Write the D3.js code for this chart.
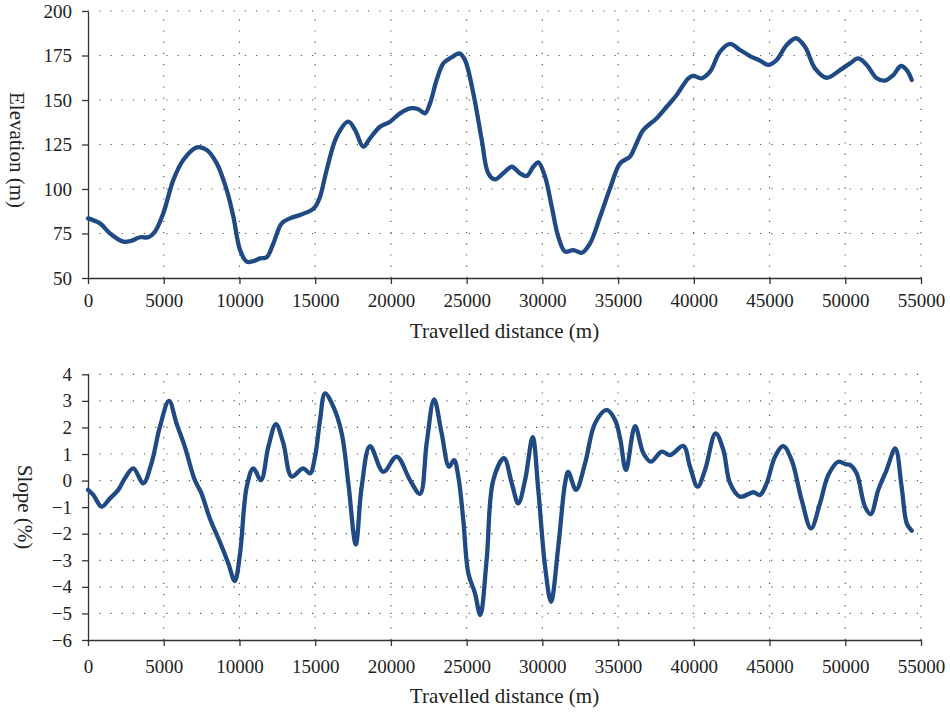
<!DOCTYPE html>
<html>
<head>
<meta charset="utf-8">
<script src="https://cdn.jsdelivr.net/npm/d3@7"></script>
<style>
  body { margin: 0; background: #fff; }
  svg { display: block; }
  .tick text { font-family: "Liberation Serif", "DejaVu Serif", serif; font-size: 19px; fill: #222; }
  .axis path, .axis line { stroke: #333; stroke-width: 1.3px; }
  .grid line { stroke: #555; stroke-width: 1.2px; stroke-dasharray: 1.2 10; }
  .label { font-family: "Liberation Serif", "DejaVu Serif", serif; font-size: 21px; fill: #222; }
</style>
</head>
<body>
<div id="chart"></div>
<script>
// distance (m) and elevation (m)
const elevDistance = [0, 790, 1450, 2330, 2880, 3430, 3980, 4420, 4970, 5630, 6290, 7180, 7840, 8500, 9160, 9600,
  10040, 10480, 10920, 11360, 11800, 12240, 12790, 13340, 14000, 14770, 15000, 15320, 15760, 16420, 17190, 17630,
  18180, 18620, 19280, 19940, 20600, 21260, 21810, 22250, 22580, 23020, 23460, 24010, 24520, 24890, 25440, 26000,
  26430, 26870, 27420, 27980, 28520, 28970, 29400, 29730, 30180, 30620, 31050, 31500, 32040, 32600, 33150, 33810,
  34470, 35130, 35790, 36120, 36670, 37550, 38210, 38870, 39640, 39970, 40520, 41070, 41730, 42390, 43050, 43710,
  44370, 44920, 45470, 46130, 46750, 47340, 48000, 48770, 49650, 50310, 50860, 51420, 52080, 52620, 53170, 53680,
  54060, 54390];
const elevation = [83.5, 80.7, 75.1, 70.4, 71, 72.9, 72.9, 76, 86.3, 105, 116.3, 123.4, 121.9, 114.4, 99.4, 84.4,
  65.7, 59.2, 59.5, 61, 61.7, 69.5, 80.7, 83.5, 85.4, 88.2, 90, 95.7, 110.7, 129.4, 137.8, 133.2,
  123.8, 128.5, 135, 137.8, 142.5, 145.3, 144.8, 142.5, 148.1, 161.2, 170.6, 174, 176.2, 172.5, 153.8, 127.5,
  108.8, 105.4, 108.8, 112.5, 108.8, 107.3, 112.5, 115, 106.9, 90, 73.2, 64.8, 65.7, 64.2, 69.5, 84.4,
  100.4, 114.4, 118.2, 123.8, 133.2, 139.7, 146.2, 152.8, 162.2, 163.5, 162.2, 165.9, 177.1, 181.5, 178.1, 174.7,
  172.1, 169.7, 172.5, 180.9, 184.7, 179.9, 167.8, 162.5, 166.8, 170.6, 173.4, 169.7, 162.2, 160.9, 164, 169.1,
  166.8, 161.2];

// distance (m) and slope (%)
const slopeDistance = [0, 350, 900, 1450, 2000, 2440, 2990, 3650, 4190, 4750, 5350, 5840, 6390, 7050, 7490, 8040,
  8700, 9260, 9690, 10040, 10480, 10920, 11420, 11910, 12410, 12900, 13450, 14200, 14660, 14990, 15320, 15650,
  16200, 16750, 17190, 17680, 18070, 18620, 19500, 20380, 21260, 21920, 22360, 22850, 23350, 23840, 24170, 24450,
  24780, 25110, 25550, 25900, 26320, 26760, 27470, 27980, 28410, 28860, 29360, 29730, 30180, 30570, 31050, 31500,
  31710, 32220, 32820, 33480, 34250, 34800, 35130, 35520, 36120, 36670, 37170, 37880, 38430, 39310, 39750, 40250,
  40740, 41440, 41950, 42390, 43050, 43930, 44370, 44810, 45360, 45910, 46460, 47120, 47740, 48330, 48880, 49540,
  50000, 50310, 50750, 51300, 51680, 52180, 52730, 53300, 53720, 54060, 54390];
const slope = [-0.35, -0.54, -0.98, -0.67, -0.35, 0.09, 0.46, -0.10, 0.65, 2.03, 3.0, 2.16, 1.28, 0.02, -0.48, -1.42,
  -2.30, -3.11, -3.78, -2.74, -0.23, 0.46, 0.02, 1.28, 2.12, 1.40, 0.15, 0.46, 0.27, 0.90, 2.28, 3.28,
  2.78, 1.78, -0.10, -2.40, -0.23, 1.30, 0.33, 0.90, 0.02, -0.50, 1.40, 3.06, 1.78, 0.52, 0.77, 0.15,
  -1.48, -3.49, -4.24, -5.06, -2.99, 0.02, 0.84, -0.10, -0.86, 0.02, 1.63, -0.35, -3.24, -4.56, -2.49, -0.10,
  0.33, -0.35, 0.65, 2.16, 2.66, 2.28, 1.6, 0.40, 2.05, 1.03, 0.71, 1.09, 0.96, 1.30, 0.52, -0.23,
  0.40, 1.78, 1.15, -0.10, -0.61, -0.44, -0.54, -0.10, 0.90, 1.30, 0.77, -0.73, -1.80, -0.86, 0.21, 0.71,
  0.62, 0.59, 0.27, -0.98, -1.26, -0.35, 0.40, 1.21, -0.23, -1.61, -1.89];

// tick values
const distanceTicks = d3.range(0, 55001, 5000);
const elevationTicks = [50, 75, 100, 125, 150, 175, 200];
const slopeTicks = d3.range(-6, 5, 1);

class ProfileChart {
    constructor(svg, box, xs, ys, xTicks, yTicks, yLabel, yLabelPos, xPad, xLabelGap) {
        this.svg = svg;
        this.box = box;
        this.xs = xs;
        this.ys = ys;
        this.xTicks = xTicks;
        this.yTicks = yTicks;
        this.yLabel = yLabel;
        this.yLabelPos = yLabelPos;
        this.xPad = xPad;
        this.xLabelGap = xLabelGap;
        this.g = svg.append("g").attr("transform", `translate(${box.left},${box.top})`);
        this.width = box.right - box.left;
        this.height = box.bottom - box.top;
        this.x = d3.scaleLinear().domain([0, 55000]).range([0, this.width]);
        this.y = d3.scaleLinear().domain(d3.extent(yTicks)).range([this.height, 0]);
    }

    draw() {
        this.drawGrid();
        this.drawAxes();
        this.drawLine();
        this.drawLabels();
    }

    // dotted grid at every tick that is not on an axis
    drawGrid() {
        const grid = this.g.append("g").attr("class", "grid");
        grid.selectAll(".gy")
            .data(this.yTicks.slice(1))
            .enter().append("line")
            .attr("x1", 0).attr("x2", this.width)
            .attr("y1", d => this.y(d)).attr("y2", d => this.y(d));
        grid.selectAll(".gx")
            .data(this.xTicks.slice(1))
            .enter().append("line")
            .attr("x1", d => this.x(d)).attr("x2", d => this.x(d))
            .attr("y1", this.height).attr("y2", 0);
    }

    drawAxes() {
        this.g.append("g")
            .attr("class", "axis")
            .attr("transform", `translate(0,${this.height})`)
            .call(d3.axisBottom(this.x).tickValues(this.xTicks).tickFormat(d3.format("d"))
                .tickSize(6).tickSizeOuter(0).tickPadding(this.xPad));
        this.g.append("g")
            .attr("class", "axis")
            .call(d3.axisLeft(this.y).tickValues(this.yTicks).tickFormat(d3.format("d"))
                .tickSize(6).tickSizeOuter(0).tickPadding(10));
    }

    drawLine() {
        const line = d3.line()
            .x(d => this.x(d[0]))
            .y(d => this.y(d[1]))
            .curve(d3.curveCatmullRom.alpha(0.5));
        this.g.append("path")
            .datum(d3.zip(this.xs, this.ys))
            .attr("fill", "none")
            .attr("stroke", "#1f4a84")
            .attr("stroke-width", 4.3)
            .attr("stroke-linejoin", "round")
            .attr("stroke-linecap", "round")
            .attr("d", line);
    }

    drawLabels() {
        this.g.append("text")
            .attr("class", "label")
            .attr("x", this.width / 2)
            .attr("y", this.height + this.xLabelGap)
            .attr("text-anchor", "middle")
            .text("Travelled distance (m)");
        this.g.append("text")
            .attr("class", "label")
            .attr("transform", `translate(${this.yLabelPos[0] - this.box.left},${this.yLabelPos[1] - this.box.top}) rotate(90)`)
            .attr("text-anchor", "middle")
            .attr("dy", "0.33em")
            .text(this.yLabel);
    }
}

const svg = d3.select("#chart").append("svg")
    .attr("width", 950)
    .attr("height", 712);

new ProfileChart(svg, {left: 88, right: 921, top: 11, bottom: 278},
    elevDistance, elevation, distanceTicks, elevationTicks, "Elevation (m)", [17, 150], 10, 60).draw();

new ProfileChart(svg, {left: 88, right: 921, top: 374.3, bottom: 640},
    slopeDistance, slope, distanceTicks, slopeTicks, "Slope (%)", [25, 507], 14, 63).draw();
</script>
</body>
</html>
